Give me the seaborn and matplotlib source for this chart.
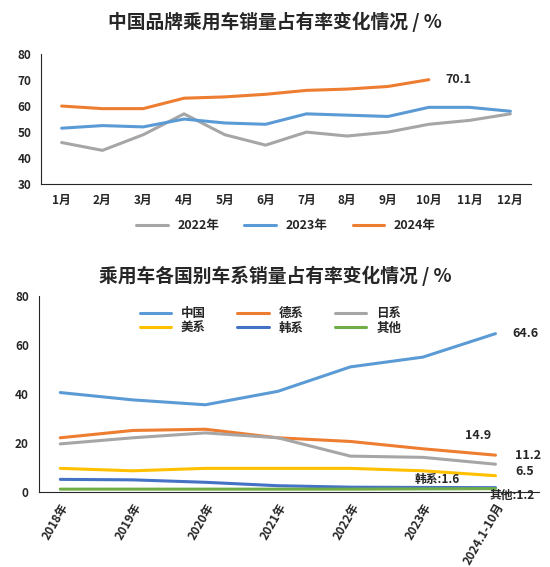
import matplotlib.pyplot as plt
import seaborn as sns
import pandas as pd

sns.set_style("white")
plt.rcParams['font.family'] = ['Noto Sans CJK SC', 'DejaVu Sans']
plt.rcParams['font.weight'] = 'bold'

months = ['1月', '2月', '3月', '4月', '5月', '6月', '7月', '8月', '9月', '10月', '11月', '12月']
share_2022 = [46, 43, 49, 57, 49, 45, 50, 48.5, 50, 53, 54.5, 57]
share_2023 = [51.5, 52.5, 52, 55, 53.5, 53, 57, 56.5, 56, 59.5, 59.5, 58]
share_2024 = [60, 59, 59, 63, 63.5, 64.5, 66, 66.5, 67.5, 70.1]

years = ['2018年', '2019年', '2020年', '2021年', '2022年', '2023年', '2024.1-10月']
china = [40.5, 37.5, 35.5, 41, 51, 55, 64.6]
german = [22, 25, 25.5, 22, 20.5, 17.5, 14.9]
japan = [19.5, 22, 24, 22, 14.5, 14, 11.2]
usa = [9.5, 8.5, 9.5, 9.5, 9.5, 8.5, 6.5]
korea = [5, 4.8, 3.8, 2.4, 1.8, 1.7, 1.6]
other = [1, 1, 1, 1, 1, 1.1, 1.2]

fig = plt.figure(figsize=(5.5, 5.67), dpi=100)

# top chart
ax1 = fig.add_axes([0.075, 0.675, 0.89, 0.23])
top = pd.DataFrame({
    'm': months * 3,
    'v': share_2022 + share_2023 + share_2024 + [None] * 2,
    's': ['2022年'] * 12 + ['2023年'] * 12 + ['2024年'] * 12,
})
sns.lineplot(data=top, x='m', y='v', hue='s', sort=False, ax=ax1, linewidth=2.2,
             palette=['#a6a6a6', '#5b9bd5', '#ed7d31'])
ax1.set_ylim(30, 80)
ax1.set_yticks(range(30, 81, 10))
ax1.set_xlabel('')
ax1.set_ylabel('')
ax1.set_xlim(-0.5, 11.5)
ax1.annotate('70.1', (9, 70.1), xytext=(12, 0), textcoords='offset points',
             va='center', fontsize=9, fontweight='bold')
sns.despine(ax=ax1)
ax1.tick_params(labelsize=8.5)
ax1.legend(loc='upper center', bbox_to_anchor=(0.5, -0.18), ncol=3, frameon=False,
           fontsize=9, handlelength=2.5)
fig.text(0.5, 0.962, '中国品牌乘用车销量占有率变化情况 / %', ha='center', va='center',
         fontsize=13.5, fontweight='bold')

# bottom chart
ax2 = fig.add_axes([0.07, 0.133, 0.91, 0.345])
bottom = pd.DataFrame({'y': years * 6,
                       'v': china + german + japan + usa + korea + other,
                       's': ['中国'] * 7 + ['德系'] * 7 + ['日系'] * 7 + ['美系'] * 7 + ['韩系'] * 7 + ['其他'] * 7})
sns.lineplot(data=bottom, x='y', y='v', hue='s', sort=False, ax=ax2, linewidth=2.2,
             palette=['#5b9bd5', '#ed7d31', '#a6a6a6', '#ffc000', '#4472c4', '#70ad47'])
ax2.set_ylim(0, 80)
ax2.set_yticks(range(0, 81, 20))
ax2.set_xlim(-0.3, 6.6)
ax2.set_xlabel('')
ax2.set_ylabel('')
sns.despine(ax=ax2)
ax2.tick_params(labelsize=8.5)
plt.setp(ax2.get_xticklabels(), rotation=60, ha='right', rotation_mode='anchor')
# legend filled row by row
h, l = ax2.get_legend_handles_labels()
order = [0, 3, 1, 4, 2, 5]
ax2.legend([h[i] for i in order], [l[i] for i in order], loc='upper left',
           bbox_to_anchor=(0.18, 1.0), ncol=3, frameon=False,
           fontsize=9, handlelength=2.5, columnspacing=2.5, labelspacing=0.1)
ax2.annotate('64.6', (6, 64.6), xytext=(12, 0), textcoords='offset points', va='center', fontsize=9)
ax2.annotate('14.9', (6, 14.9), xytext=(-22, 14), textcoords='offset points', va='center', fontsize=9)
ax2.annotate('11.2', (6, 11.2), xytext=(14, 6), textcoords='offset points', va='center', fontsize=9)
ax2.annotate('6.5', (6, 6.5), xytext=(14, 3), textcoords='offset points', va='center', fontsize=9)
ax2.annotate('韩系:1.6', (6, 1.6), xytext=(-58, 6), textcoords='offset points', va='center', fontsize=8.5)
ax2.annotate('其他:1.2', (6, 1.2), xytext=(-4, -5), textcoords='offset points', va='center', fontsize=8.5)
fig.text(0.5, 0.513, '乘用车各国别车系销量占有率变化情况 / %', ha='center', va='center',
         fontsize=13.5, fontweight='bold')

fig.savefig('out.png', dpi=100)
